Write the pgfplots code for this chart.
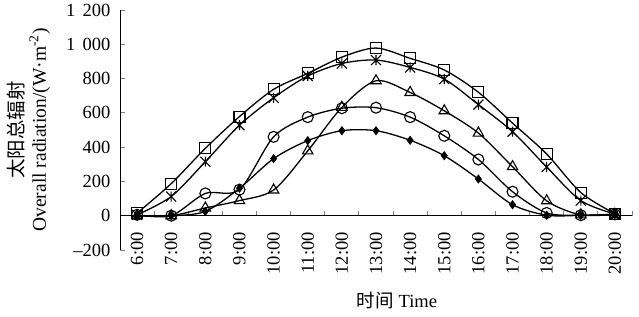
\documentclass[border=0pt]{standalone}
\usepackage{fontspec}
\setmainfont{Liberation Serif}
\newfontfamily\cjk{Noto Sans CJK SC}
\usepackage{pgfplots}
\pgfplotsset{compat=1.18}
\pgfdeclareplotmark{xstar}{%
  \pgfpathmoveto{\pgfqpoint{-\pgfplotmarksize}{-\pgfplotmarksize}}%
  \pgfpathlineto{\pgfqpoint{\pgfplotmarksize}{\pgfplotmarksize}}%
  \pgfpathmoveto{\pgfqpoint{-\pgfplotmarksize}{\pgfplotmarksize}}%
  \pgfpathlineto{\pgfqpoint{\pgfplotmarksize}{-\pgfplotmarksize}}%
  \pgfpathmoveto{\pgfqpoint{0pt}{-\pgfplotmarksize}}%
  \pgfpathlineto{\pgfqpoint{0pt}{\pgfplotmarksize}}%
  \pgfusepathqstroke}
\begin{document}
\begin{tikzpicture}
\begin{axis}[
  scale only axis, width=512pt, height=240pt,
  xmin=-0.5, xmax=14.5, ymin=-200, ymax=1200,
  axis x line=middle, axis y line=left,
  axis line style={-, line width=0.9pt},
  xtick={0,...,14},
  xticklabels={6:00,7:00,8:00,9:00,10:00,11:00,12:00,13:00,14:00,15:00,16:00,17:00,18:00,19:00,20:00},
  major x tick style={draw=none},
  minor xtick={-0.5,0.5,...,14.5},
  minor x tick style={line width=0.9pt},
  tick align=inside,
  major tick length=5pt, minor tick length=5pt,
  ytick={-200,0,200,400,600,800,1000,1200},
  yticklabels={–200,0,200,400,600,800,1\hspace{0.4em}000,1\hspace{0.4em}200},
  y tick style={line width=0.9pt},
  tick label style={font=\fontsize{18.5}{22}\selectfont},
  xticklabel style={yshift=-13pt, rotate=90, anchor=east},
  yticklabel style={xshift=-6pt},
  ylabel={{\cjk 太阳总辐射}\\Overall radiation/(W·m\textsuperscript{-2})},
  ylabel style={at={(axis description cs:-0.178,0.5)}, anchor=center, align=center, font=\fontsize{19.5}{22}\selectfont},
  xlabel={{\cjk 时间} Time},
  xlabel style={at={(axis description cs:0.541,-0.212)}, anchor=center, font=\fontsize{18.5}{22}\selectfont},
  every axis plot/.append style={black, line width=1.3pt, smooth},
  clip=false,
]
\addplot[mark=square, mark size=5.5pt, mark options={line width=1.1pt}] coordinates {
(0,15)(1,187)(2,393)(3,578)(4,737)(5,830)(6,925)(7,978)(8,918)(9,850)(10,720)(11,540)(12,360)(13,135)(14,12)};
\addplot[mark=xstar, mark size=5pt, mark options={line width=1.1pt}] coordinates {
(0,5)(1,112)(2,315)(3,528)(4,688)(5,815)(6,888)(7,908)(8,865)(9,797)(10,648)(11,490)(12,284)(13,88)(14,10)};
\addplot[mark=triangle, mark size=6pt, mark options={line width=1.1pt}] coordinates {
(0,0)(1,0)(2,45)(3,88)(4,150)(5,378)(6,632)(7,787)(8,719)(9,612)(10,482)(11,286)(12,87)(13,5)(14,8)};
\addplot[mark=o, mark size=5.5pt, mark options={line width=1.1pt}] coordinates {
(0,5)(1,0)(2,130)(3,152)(4,460)(5,575)(6,627)(7,630)(8,575)(9,466)(10,328)(11,140)(12,16)(13,3)(14,8)};
\addplot[mark=diamond*, mark size=4pt, mark options={line width=0.8pt}] coordinates {
(0,0)(1,0)(2,25)(3,160)(4,333)(5,438)(6,496)(7,496)(8,440)(9,350)(10,214)(11,64)(12,3)(13,2)(14,8)};
\coordinate (BL) at (rel axis cs:0,0);
\coordinate (TR) at (rel axis cs:1,1);
\end{axis}
\pgfresetboundingbox
\path ([shift={(-120pt,-67pt)}]BL) rectangle ([shift={(7pt,10pt)}]TR);
\end{tikzpicture}
\end{document}
